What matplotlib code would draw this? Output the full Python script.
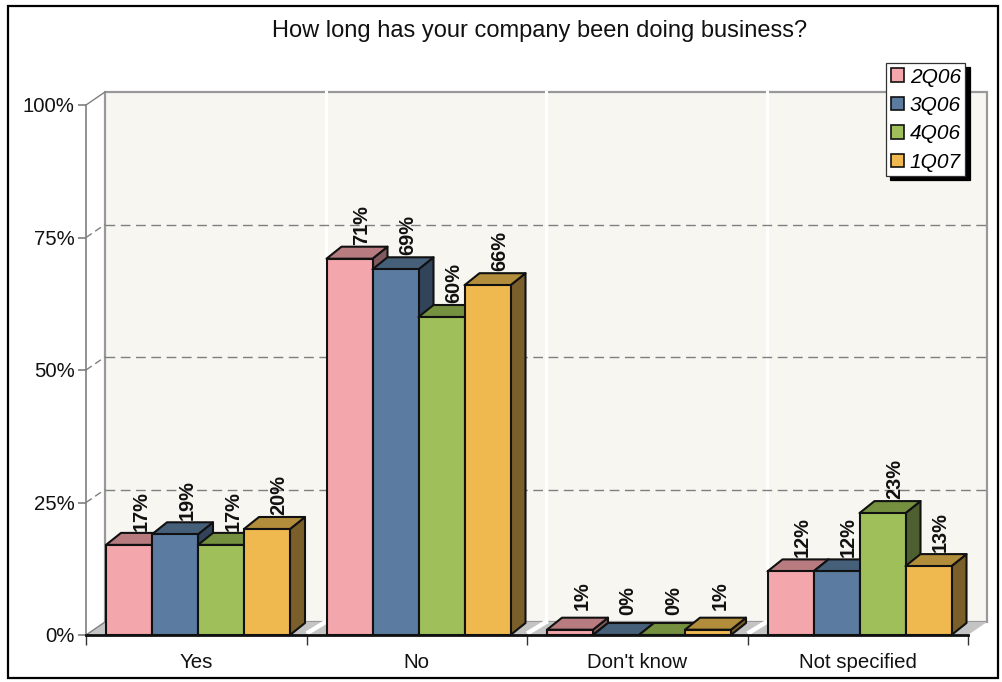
import matplotlib
matplotlib.use("Agg")
import matplotlib.pyplot as plt
from matplotlib.patches import Polygon, Rectangle, Patch

plt.rcParams['font.family'] = ['Liberation Sans', 'DejaVu Sans']

title = "How long has your company been doing business?"
categories = ["Yes", "No", "Don't know", "Not specified"]
series = ["2Q06", "3Q06", "4Q06", "1Q07"]
q2_06 = [17, 71, 1, 12]
q3_06 = [19, 69, 0, 12]
q4_06 = [17, 60, 0, 23]
q1_07 = [20, 66, 1, 13]
values = [q2_06, q3_06, q4_06, q1_07]
yticks = [0, 25, 50, 75, 100]

front = ["#F3A6AB", "#5B7CA0", "#9FBF5B", "#F0B94F"]
top = ["#B87C80", "#46607A", "#75913F", "#B28E3C"]
side = ["#805A5E", "#31445A", "#4F6030", "#7A5F2A"]

W, H = 1002, 682
fig = plt.figure(figsize=(W / 100, H / 100), dpi=100, facecolor="white")
# plot box in pixels: x 86-968, y 105-635
ax = fig.add_axes([86 / W, 1 - 635 / H, 882 / W, 530 / H])
ax.set_xlim(0, 4)
ax.set_ylim(0, 100)
ax.patch.set_visible(False)

# pixel to data sizes
px = 4 / 882
py = 100 / 530
wall_dx, wall_dy = 19 * px, 13 * py
bar_dx, bar_dy = 15 * px, 12 * py
bar_w = 46 * px
bar_start = 20 * px

# outer frame
fig.patches.append(Rectangle((7.5 / W, 1 - 678 / H), 990.5 / W, 672.5 / H, transform=fig.transFigure,
                             fc="white", ec="black", lw=1.6, zorder=-10))

# back wall and floor
ax.add_patch(Rectangle((wall_dx, wall_dy), 4, 100, fc="#F7F6F1", ec="#999999", lw=1.6, clip_on=False, zorder=1))
ax.add_patch(Polygon([(0, 0), (4, 0), (4 + wall_dx, wall_dy), (wall_dx, wall_dy)], fc="#C4C4C4", ec="none",
                     clip_on=False, zorder=2))
for i in range(1, 4):
    ax.plot([i + wall_dx, i + wall_dx], [wall_dy, 100 + wall_dy], color="white", lw=2.2, clip_on=False, zorder=2)
    ax.plot([i + 2 * px, i + wall_dx], [0.5, wall_dy], color="white", lw=3.2, clip_on=False, zorder=2)

# grid, with the short diagonal on the side wall
for t in yticks[1:-1]:
    ax.plot([wall_dx, 4 + wall_dx], [t + wall_dy, t + wall_dy], color="#7F7F7F", lw=1, dashes=(7, 4),
            clip_on=False, zorder=3)
    ax.plot([0, wall_dx], [t, t + wall_dy], color="#7F7F7F", lw=1, dashes=(5, 3), clip_on=False, zorder=3)
ax.plot([0, wall_dx], [100, 100 + wall_dy], color="#7F7F7F", lw=1, clip_on=False, zorder=3)
ax.plot([0, wall_dx], [0, wall_dy], color="#7F7F7F", lw=1, clip_on=False, zorder=3)

# bars, painted left to right so each one covers the last
z = 4
for c in range(len(categories)):
    for s in range(len(series)):
        v = values[s][c]
        x0 = c + bar_start + s * bar_w
        x1 = x0 + bar_w
        ax.add_patch(Polygon([(x1, 0), (x1 + bar_dx, bar_dy), (x1 + bar_dx, v + bar_dy), (x1, v)], fc=side[s],
                             ec="#111111", lw=1.5, joinstyle="round", clip_on=False, zorder=z))
        ax.add_patch(Polygon([(x0, v), (x0 + bar_dx, v + bar_dy), (x1 + bar_dx, v + bar_dy), (x1, v)], fc=top[s],
                             ec="#111111", lw=1.5, joinstyle="round", clip_on=False, zorder=z))
        ax.add_patch(Rectangle((x0, 0), bar_w, v, fc=front[s], ec="#111111", lw=1.5, clip_on=False, zorder=z))
        ax.text(x0 + bar_w / 2 + 12 * px, v + bar_dy + 22 * py, "%d%%" % v, rotation=90, ha="center", va="center",
                fontsize=14.4, fontweight="bold", color="#111111", zorder=100)
        z += 1

# axes
for name in ["top", "right"]:
    ax.spines[name].set_visible(False)
ax.spines["left"].set_color("#7F7F7F")
ax.spines["left"].set_linewidth(1.2)
ax.spines["bottom"].set_color("#111111")
ax.spines["bottom"].set_linewidth(2)
ax.spines["bottom"].set_zorder(200)
ax.set_yticks(yticks)
ax.set_yticklabels(["%d%%" % t for t in yticks], fontsize=14.7, color="#111111")
ax.tick_params(axis="y", length=5.8, width=1.2, color="#7F7F7F", pad=2.5)
ax.set_xticks(range(5))
ax.set_xticklabels([])
ax.tick_params(axis="x", length=7, width=1, color="#333333")
for i, name in enumerate(categories):
    ax.text(i + 0.5, -3.4, name, ha="center", va="top", fontsize=14.7, color="#111111")

fig.text(540 / W, 1 - 30.5 / H, title, ha="center", va="center", fontsize=17, color="#111111")

handles = [Patch(fc=front[i], ec="#111111", lw=1.2, label=series[i]) for i in range(4)]
leg = ax.legend(handles=handles, loc="upper left", bbox_to_anchor=(886 / W, 1 - 63 / H),
                bbox_transform=fig.transFigure, fancybox=False, framealpha=1, edgecolor="#333333",
                shadow={"ox": 3, "oy": -3, "color": "black", "alpha": 1},
                prop={"style": "italic", "size": 15}, handlelength=0.62, handleheight=0.62,
                handletextpad=0.3, labelspacing=0.45, borderpad=0.22, borderaxespad=0)
leg.get_frame().set_linewidth(0.9)
leg.set_zorder(300)

fig.savefig("out.png", dpi=100)
